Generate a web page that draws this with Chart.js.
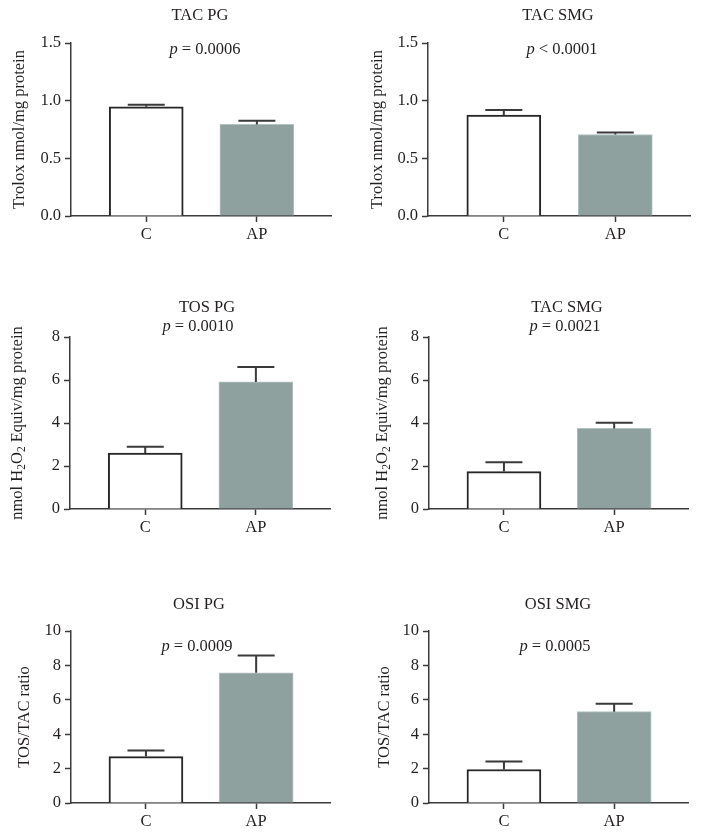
<!DOCTYPE html>
<html><head><meta charset="utf-8">
<script src="https://cdn.jsdelivr.net/npm/chart.js@4/dist/chart.umd.min.js"></script>
<style>
html,body{margin:0;padding:0;background:#fff;}
#wrap{position:relative;width:701px;height:838px;overflow:hidden;background:#fff;}
canvas{position:absolute;}
</style></head><body><div id="wrap"></div>
<script>
// ---- data ----
const categories = ['C', 'AP'];
const titles = ['TAC PG', 'TAC SMG', 'TOS PG', 'TAC SMG', 'OSI PG', 'OSI SMG'];
const pLabels = ['p = 0.0006', 'p < 0.0001', 'p = 0.0010', 'p = 0.0021', 'p = 0.0009', 'p = 0.0005'];
const yTitles = ['Trolox nmol/mg protein', 'Trolox nmol/mg protein',
  'nmol H_2O_2 Equiv/mg protein', 'nmol H_2O_2 Equiv/mg protein',
  'TOS/TAC ratio', 'TOS/TAC ratio'];
const meanC  = [0.947, 0.875, 2.60, 1.74, 2.70, 1.95];
const meanAP = [0.794, 0.707, 5.91, 3.75, 7.57, 5.31];
const semC   = [0.017, 0.043, 0.30, 0.44, 0.35, 0.46];
const semAP  = [0.031, 0.017, 0.70, 0.26, 1.00, 0.46];
const yMax   = [1.5, 1.5, 8, 8, 10, 10];
const yStep  = [0.5, 0.5, 2, 2, 2, 2];
const yDecimals = [1, 1, 0, 0, 0, 0];

// ---- layout (page pixels) ----
const panels = [
  {cl:0,   ct:0,   cw:350, ch:280, axisX:71,  right:331, top:43,  bottom:216, tx:200, ty:16,  px:205, py:50,  yx:20},
  {cl:350, ct:0,   cw:351, ch:280, axisX:428, right:690, top:43,  bottom:216, tx:558, ty:16,  px:562, py:50,  yx:378},
  {cl:0,   ct:280, cw:350, ch:280, axisX:70,  right:330, top:337, bottom:509, tx:207, ty:308, px:198, py:327, yx:18},
  {cl:350, ct:280, cw:351, ch:280, axisX:429, right:688, top:337, bottom:509, tx:567, ty:308, px:565, py:327, yx:383},
  {cl:0,   ct:560, cw:350, ch:278, axisX:71,  right:330, top:631, bottom:803, tx:199, ty:605, px:197, py:647, yx:25},
  {cl:350, ct:560, cw:351, ch:278, axisX:429, right:688, top:631, bottom:803, tx:558, ty:605, px:555, py:647, yx:385}
];

const FONT = "'Liberation Serif', 'Times New Roman', serif";
const FS = 16.5;
const TEXT = '#231f20';
const AXIS = '#3a3a3a';
Chart.defaults.font.family = FONT;
Chart.defaults.font.size = FS;
Chart.defaults.color = TEXT;

const Y_W = 40, X_H = 30;

function drawRich(ctx, str, cx, cy) {
  const segs = [];
  let i = 0;
  while (i < str.length) {
    if (str[i] === '_') { segs.push({t: str[i+1], sub: true}); i += 2; }
    else {
      let j = i; while (j < str.length && str[j] !== '_') j++;
      segs.push({t: str.slice(i, j), sub: false}); i = j;
    }
  }
  const f = (s) => (s.sub ? '11.5px ' : FS + 'px ') + FONT;
  let total = 0;
  segs.forEach(s => { ctx.font = f(s); s.w = ctx.measureText(s.t).width; total += s.w; });
  let x = cx - total / 2;
  segs.forEach(s => {
    ctx.font = f(s);
    ctx.fillText(s.t, x, cy + (s.sub ? 4 : 0));
    x += s.w;
  });
}

const annot = {
  id: 'annot',
  afterDatasetsDraw(chart, args, o) {
    const ctx = chart.ctx, ys = chart.scales.y, meta = chart.getDatasetMeta(0);
    const vals = chart.data.datasets[0].data;
    ctx.save();
    ctx.strokeStyle = AXIS; ctx.lineWidth = 2;
    meta.data.forEach((bar, i) => {
      const yTop = ys.getPixelForValue(vals[i].y + o.sems[i]);
      const half = bar.width / 4;
      ctx.beginPath();
      ctx.moveTo(bar.x, bar.y); ctx.lineTo(bar.x, yTop);
      ctx.moveTo(bar.x - half, yTop); ctx.lineTo(bar.x + half, yTop);
      ctx.stroke();
    });
    ctx.restore();
  },
  afterDraw(chart, args, o) {
    const ctx = chart.ctx, p = o.panel, ca = chart.chartArea;
    ctx.save();
    ctx.fillStyle = TEXT;
    ctx.textBaseline = 'middle';
    // title
    ctx.font = FS + 'px ' + FONT; ctx.textAlign = 'center';
    ctx.fillText(o.title, p.tx - p.cl, p.ty - p.ct);
    // p value
    ctx.textAlign = 'left';
    const first = o.pText[0], rest = o.pText.slice(1);
    ctx.font = 'italic ' + FS + 'px ' + FONT; const w1 = ctx.measureText(first).width;
    ctx.font = FS + 'px ' + FONT; const w2 = ctx.measureText(rest).width;
    const x0 = p.px - p.cl - (w1 + w2) / 2;
    ctx.font = 'italic ' + FS + 'px ' + FONT; ctx.fillText(first, x0, p.py - p.ct);
    ctx.font = FS + 'px ' + FONT; ctx.fillText(rest, x0 + w1, p.py - p.ct);
    // y axis title
    ctx.translate(p.yx - p.cl, (ca.top + ca.bottom) / 2);
    ctx.rotate(-Math.PI / 2);
    ctx.textAlign = 'left';
    drawRich(ctx, o.yTitle, 0, 0);
    ctx.restore();
  }
};

const wrap = document.getElementById('wrap');
panels.forEach((p, k) => {
  const cv = document.createElement('canvas');
  cv.width = p.cw; cv.height = p.ch;
  cv.style.left = p.cl + 'px'; cv.style.top = p.ct + 'px';
  cv.style.width = p.cw + 'px'; cv.style.height = p.ch + 'px';
  wrap.appendChild(cv);
  const gridOpts = {display: true, offset: false, drawOnChartArea: false, drawTicks: true, tickLength: 6, tickColor: AXIS, tickWidth: 1.5};
  new Chart(cv, {
    type: 'bar',
    data: {
      datasets: [{
        data: [{x: 1, y: meanC[k]}, {x: 2, y: meanAP[k]}],
        backgroundColor: ['#ffffff', '#8fa19f'],
        borderColor: ['#262626', '#b3c2c0'],
        borderWidth: [2, 1],
        barThickness: 74,
        borderSkipped: 'bottom'
      }]
    },
    options: {
      responsive: false,
      animation: false,
      devicePixelRatio: 1,
      layout: {padding: {
        left: p.axisX - p.cl - Y_W,
        right: p.cl + p.cw - p.right,
        top: p.top - p.ct,
        bottom: p.ct + p.ch - p.bottom - X_H
      }},
      plugins: {
        legend: {display: false}, tooltip: {enabled: false},
        annot: {panel: p, title: titles[k], pText: pLabels[k], yTitle: yTitles[k], sems: [semC[k], semAP[k]]}
      },
      scales: {
        x: {
          type: 'linear', min: 0.32, max: 2.67, offset: false,
          grid: gridOpts,
          border: {display: true, color: AXIS, width: 1.5},
          ticks: {padding: 3, autoSkip: false, maxRotation: 0, callback: (v) => categories[v - 1] || ''},
          afterBuildTicks: (s) => { s.ticks = categories.map((c, i) => ({value: i + 1})); },
          afterFit: (s) => { s.height = X_H; }
        },
        y: {
          min: 0, max: yMax[k],
          grid: gridOpts,
          border: {display: true, color: AXIS, width: 1.5},
          ticks: {stepSize: yStep[k], padding: 4, callback: (v) => Number(v).toFixed(yDecimals[k])},
          afterFit: (s) => { s.width = Y_W; }
        }
      }
    },
    plugins: [annot]
  });
});
</script></body></html>
